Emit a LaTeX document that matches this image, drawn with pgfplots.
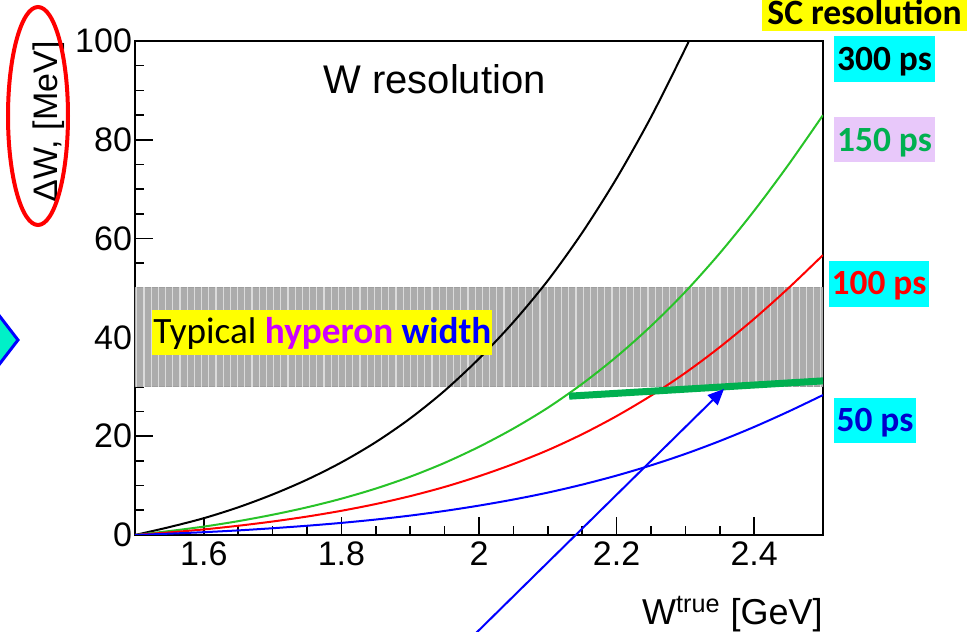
\documentclass[border=0pt]{standalone}
\usepackage{fontspec}
\setmainfont{Liberation Sans}
\newfontfamily\calibri{Carlito}
\usepackage{pgfplots}
\pgfplotsset{compat=1.18}
\usetikzlibrary{arrows.meta,patterns.meta}
\definecolor{cgreen}{RGB}{40,195,40}
\definecolor{offgreen}{RGB}{0,176,80}
\definecolor{lav}{RGB}{232,200,250}
\definecolor{mag}{RGB}{204,0,255}
\definecolor{dblue}{RGB}{0,0,204}
\definecolor{turq}{RGB}{0,240,200}
\definecolor{cyanx}{RGB}{0,255,255}
\definecolor{yellowx}{RGB}{255,255,0}

\pgfplotstableread{
x     black  green  red    blue
1.50  0      0      0      0
1.55  1.6    0.8    0.53   0.27
1.60  3.4    1.7    1.13   0.57
1.65  5.6    2.8    1.87   0.93
1.70  8.2    4.1    2.73   1.37
1.75  11.2   5.6    3.73   1.87
1.80  14.7   7.35   4.9    2.45
1.85  18.8   9.4    6.27   3.13
1.90  23.6   11.8   7.87   3.93
1.95  29.2   14.6   9.73   4.87
2.00  35.7   17.85  11.9   5.95
2.05  43.1   21.55  14.37  7.18
2.10  51.5   25.75  17.17  8.58
2.15  61.2   30.6   20.4   10.2
2.20  72.2   36.1   24.07  12.03
2.25  84.6   42.3   28.2   14.1
2.30  98.5   49.25  32.83  16.42
2.31  101.6  nan    nan    nan
2.35  nan    57.05  38.03  19.02
2.40  nan    65.65  43.77  21.88
2.45  nan    75.0   50.0   25.0
2.50  nan    85.0   56.67  28.33
}\curves

\begin{document}
\begin{tikzpicture}
\useasboundingbox (0,0) rectangle (485.5pt,316pt);
\clip (0,0) rectangle (485.5pt,316pt);
\begin{axis}[
  at={(67.5pt,48.5pt)}, anchor=south west,
  scale only axis, width=344pt, height=247pt,
  xmin=1.5, xmax=2.5, ymin=0, ymax=100,
  xtick={1.6,1.8,2,2.2,2.4}, ytick={0,20,...,100},
  minor x tick num=3, minor y tick num=3,
  tick align=inside, tick pos=left,
  major tick length=9pt, minor tick length=4.5pt,
  tick style={black, line width=0.8pt},
  axis line style={line width=1pt},
  ticklabel style={font=\fontsize{17}{17}\selectfont},
  /pgf/number format/assume math mode=true,
  yticklabel style={xshift=2pt},
  xlabel={W\textsuperscript{true} [GeV]},
  xlabel style={at={(axis description cs:1,0)}, anchor=base east, yshift=-45pt, inner sep=0pt, font=\fontsize{18}{18}\selectfont},
  ylabel={ΔW, [MeV]},
  ylabel style={at={(axis description cs:-0.112,1)}, anchor=base east, inner sep=0pt, font=\fontsize{17}{17}\selectfont},
  unbounded coords=discard,
]
\addplot[draw=gray!75, fill=gray!65, line width=0.5pt] coordinates {(1.5,30) (2.5,30) (2.5,50) (1.5,50)} -- cycle;
\addplot[draw=none, pattern={Lines[angle=90,distance=3.6pt,line width=0.6pt]}, pattern color=gray!28] coordinates {(1.5,30) (2.5,30) (2.5,50) (1.5,50)} -- cycle;
\addplot[black, line width=1pt, smooth] table[x=x, y=black] {\curves};
\addplot[cgreen, line width=1pt, smooth] table[x=x, y=green] {\curves};
\addplot[red, line width=1pt, smooth] table[x=x, y=red] {\curves};
\addplot[blue, line width=1pt, smooth] table[x=x, y=blue] {\curves};
\addplot[offgreen, line width=3.5pt] coordinates {(2.131,28.1) (2.5,31.2)};
\end{axis}
\begin{scope}[x=0.5pt,y=-0.5pt,shift={(0pt,316pt)}]
  \draw[red, line width=2pt] (38,116) ellipse [x radius=30, y radius=109];
  \filldraw[fill=turq, draw=blue, line width=1.5pt] (-12,301) -- (18,340) -- (-12,379) -- cycle;
  \node[anchor=base west, inner sep=0pt, font=\fontsize{20}{20}\selectfont] at (323,94) {W resolution};
  \fill[yellowx] (762,-5) rectangle (967,31);
  \node[anchor=base, inner sep=0pt] at (864.5,25) {\calibri\bfseries\fontsize{17.8}{18}\selectfont SC resolution};
  \fill[cyanx] (834,36) rectangle (935,82);
  \node[anchor=base, inner sep=0pt] at (884.5,71) {\calibri\bfseries\fontsize{17.7}{18}\selectfont 300 ps};
  \fill[lav] (834,117) rectangle (935,162);
  \node[anchor=base, inner sep=0pt, text=offgreen] at (884.5,152) {\calibri\bfseries\fontsize{17.7}{18}\selectfont 150 ps};
  \fill[cyanx] (829,261) rectangle (929,307);
  \node[anchor=base, inner sep=0pt, text=red] at (879,295) {\calibri\bfseries\fontsize{17.7}{18}\selectfont 100 ps};
  \fill[cyanx] (834,398) rectangle (916,443);
  \node[anchor=base, inner sep=0pt, text=dblue] at (875,432) {\calibri\bfseries\fontsize{17.7}{18}\selectfont 50 ps};
  \fill[yellowx] (152,310) rectangle (492,355);
  \node[anchor=base west, inner sep=0pt] at (153,344) {\calibri\fontsize{18.6}{19}\selectfont Typical {\bfseries\color{mag}hyperon} {\bfseries\color{blue}width}};
  \draw[blue, line width=1pt, -{Triangle[length=8pt,width=7pt]}] (469,640) -- (724,389);
\end{scope}
\end{tikzpicture}
\end{document}
